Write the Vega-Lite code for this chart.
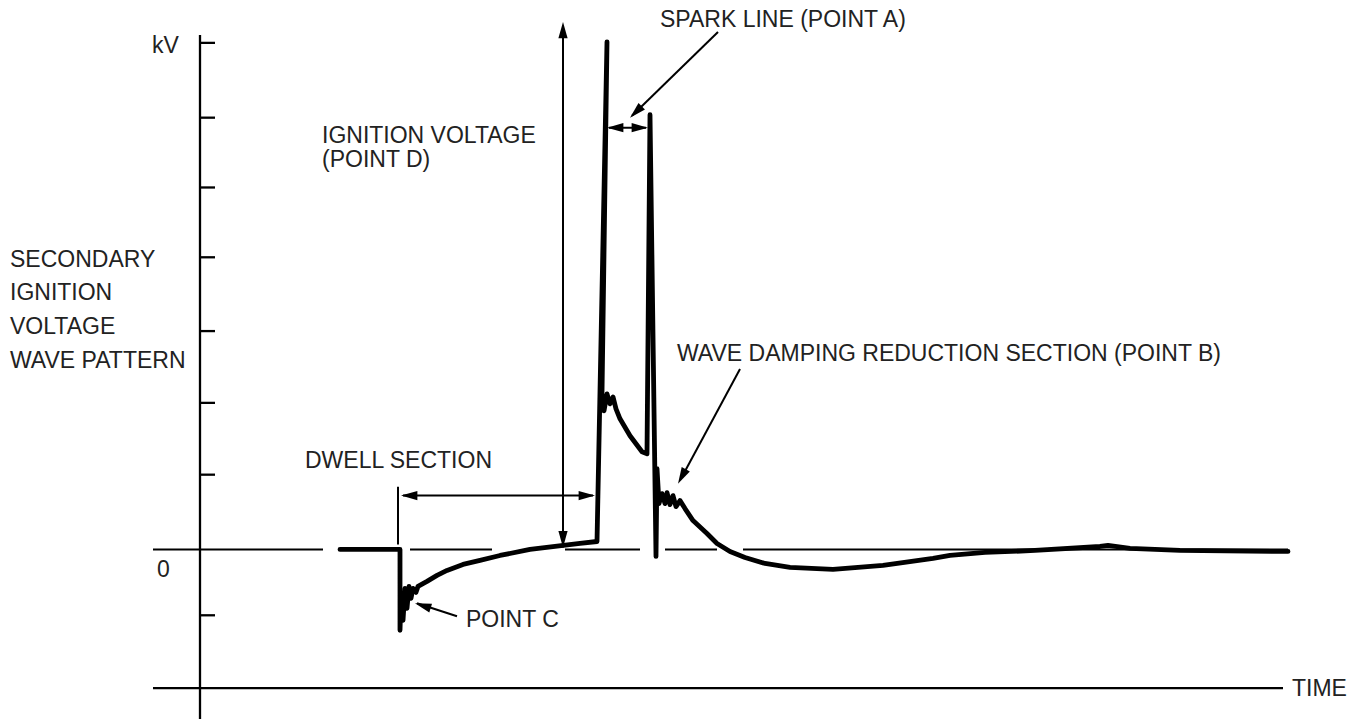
{
  "$schema": "https://vega.github.io/schema/vega-lite/v6.json",
  "width": 1360,
  "height": 721,
  "autosize": {"type": "fit", "contains": "padding"},
  "padding": 0,
  "background": "white",
  "config": {"view": {"stroke": null}},
  "datasets": {
    "frame": [
      {"part": "kV axis", "x": 0, "y": 516, "x2": 0, "y2": -170},
      {"part": "time axis", "x": -47, "y": -139, "x2": 1083, "y2": -139},
      {"part": "tick", "x": 0, "y": 508, "x2": 15, "y2": 508},
      {"part": "tick", "x": 0, "y": 433, "x2": 15, "y2": 433},
      {"part": "tick", "x": 0, "y": 363, "x2": 15, "y2": 363},
      {"part": "tick", "x": 0, "y": 293, "x2": 15, "y2": 293},
      {"part": "tick", "x": 0, "y": 219, "x2": 15, "y2": 219},
      {"part": "tick", "x": 0, "y": 147, "x2": 15, "y2": 147},
      {"part": "tick", "x": 0, "y": 75, "x2": 15, "y2": 75},
      {"part": "tick", "x": 0, "y": -66, "x2": 15, "y2": -66}
    ],
    "zero": [
      {"x": -47, "y": 0, "x2": 123, "y2": 0},
      {"x": 210, "y": 0, "x2": 292, "y2": 0},
      {"x": 365, "y": 0, "x2": 440, "y2": 0},
      {"x": 465, "y": 0, "x2": 517, "y2": 0},
      {"x": 543, "y": 0, "x2": 1088, "y2": 0}
    ],
    "shafts": [
      {"name": "dwell start", "x": 198, "y": 63, "x2": 198, "y2": 5},
      {"name": "ignition voltage", "x": 363, "y": 2, "x2": 363, "y2": 521},
      {"name": "dwell section", "x": 203, "y": 54, "x2": 393, "y2": 54},
      {"name": "spark line", "x": 409, "y": 423, "x2": 446, "y2": 423},
      {"name": "point A", "x": 518, "y": 519, "x2": 432, "y2": 435},
      {"name": "point B", "x": 540, "y": 181, "x2": 482, "y2": 73},
      {"name": "point C", "x": 257, "y": -67, "x2": 217, "y2": -54}
    ],
    "heads": [
      {"x": 363, "y": 529, "dir": "up"},
      {"x": 363, "y": 2, "dir": "down"},
      {"x": 201, "y": 54, "dir": "left"},
      {"x": 395, "y": 54, "dir": "right"},
      {"x": 407, "y": 423, "dir": "left"},
      {"x": 448, "y": 423, "dir": "right"},
      {"x": 430, "y": 433, "dir": "pointA"},
      {"x": 478, "y": 66, "dir": "pointB"},
      {"x": 215, "y": -54, "dir": "pointC"}
    ],
    "wave": [
      {"i": 1, "x": 140, "y": 0}, {"i": 2, "x": 200, "y": 0}, {"i": 3, "x": 200, "y": -81},
      {"i": 4, "x": 201, "y": -49}, {"i": 5, "x": 203, "y": -71}, {"i": 6, "x": 205, "y": -39},
      {"i": 7, "x": 207, "y": -59}, {"i": 8, "x": 209, "y": -37}, {"i": 9, "x": 211, "y": -49},
      {"i": 10, "x": 213, "y": -39}, {"i": 11, "x": 216, "y": -43}, {"i": 12, "x": 218, "y": -37},
      {"i": 13, "x": 227, "y": -32}, {"i": 14, "x": 237, "y": -26}, {"i": 15, "x": 247, "y": -21},
      {"i": 16, "x": 263, "y": -15}, {"i": 17, "x": 280, "y": -11}, {"i": 18, "x": 300, "y": -6},
      {"i": 19, "x": 330, "y": 0}, {"i": 20, "x": 355, "y": 3}, {"i": 21, "x": 380, "y": 6},
      {"i": 22, "x": 397, "y": 8}, {"i": 23, "x": 407, "y": 509}, {"i": 24, "x": 402, "y": 156},
      {"i": 25, "x": 404, "y": 139}, {"i": 26, "x": 407, "y": 156}, {"i": 27, "x": 410, "y": 146},
      {"i": 28, "x": 413, "y": 153}, {"i": 29, "x": 416, "y": 141}, {"i": 30, "x": 420, "y": 131},
      {"i": 31, "x": 430, "y": 114}, {"i": 32, "x": 442, "y": 98}, {"i": 33, "x": 447, "y": 96},
      {"i": 34, "x": 450, "y": 436}, {"i": 35, "x": 456, "y": -7}, {"i": 36, "x": 457, "y": 81},
      {"i": 37, "x": 459, "y": 46}, {"i": 38, "x": 462, "y": 56}, {"i": 39, "x": 465, "y": 46},
      {"i": 40, "x": 467, "y": 57}, {"i": 41, "x": 470, "y": 45}, {"i": 42, "x": 473, "y": 54},
      {"i": 43, "x": 476, "y": 43}, {"i": 44, "x": 480, "y": 49}, {"i": 45, "x": 485, "y": 41},
      {"i": 46, "x": 493, "y": 29}, {"i": 47, "x": 507, "y": 16}, {"i": 48, "x": 517, "y": 6},
      {"i": 49, "x": 530, "y": -2}, {"i": 50, "x": 545, "y": -8}, {"i": 51, "x": 565, "y": -14},
      {"i": 52, "x": 590, "y": -18}, {"i": 53, "x": 633, "y": -20}, {"i": 54, "x": 683, "y": -16},
      {"i": 55, "x": 733, "y": -9}, {"i": 56, "x": 750, "y": -6}, {"i": 57, "x": 785, "y": -3},
      {"i": 58, "x": 835, "y": -1}, {"i": 59, "x": 900, "y": 3}, {"i": 60, "x": 908, "y": 4},
      {"i": 61, "x": 930, "y": 1}, {"i": 62, "x": 980, "y": -1}, {"i": 63, "x": 1088, "y": -2}
    ],
    "labels": [
      {"x": -48, "y": 505, "text": "kV"},
      {"x": -43, "y": -21, "text": "0"},
      {"x": -190, "y": 290, "text": "SECONDARY"},
      {"x": -190, "y": 257, "text": "IGNITION"},
      {"x": -190, "y": 223, "text": "VOLTAGE"},
      {"x": -190, "y": 189, "text": "WAVE PATTERN"},
      {"x": 105, "y": 89, "text": "DWELL SECTION"},
      {"x": 122, "y": 415, "text": "IGNITION VOLTAGE"},
      {"x": 122, "y": 391, "text": "(POINT D)"},
      {"x": 460, "y": 531, "text": "SPARK LINE (POINT A)"},
      {"x": 477, "y": 196, "text": "WAVE DAMPING REDUCTION SECTION (POINT B)"},
      {"x": 266, "y": -71, "text": "POINT C"},
      {"x": 1092, "y": -140, "text": "TIME"}
    ]
  },
  "encoding": {
    "x": {"field": "x", "type": "quantitative", "scale": {"domain": [-200, 1160], "nice": false, "zero": false}, "axis": null},
    "y": {"field": "y", "type": "quantitative", "scale": {"domain": [-170, 551], "nice": false, "zero": false}, "axis": null}
  },
  "layer": [
    {
      "data": {"name": "zero"},
      "mark": {"type": "rule", "color": "black", "strokeWidth": 2},
      "encoding": {"x2": {"field": "x2"}, "y2": {"field": "y2"}}
    },
    {
      "data": {"name": "frame"},
      "mark": {"type": "rule", "color": "black", "strokeWidth": 2.3},
      "encoding": {"x2": {"field": "x2"}, "y2": {"field": "y2"}}
    },
    {
      "data": {"name": "shafts"},
      "mark": {"type": "rule", "color": "black", "strokeWidth": 2},
      "encoding": {"x2": {"field": "x2"}, "y2": {"field": "y2"}}
    },
    {
      "data": {"name": "wave"},
      "mark": {"type": "line", "color": "black", "strokeWidth": 4.8, "strokeJoin": "round", "strokeCap": "round"},
      "encoding": {"order": {"field": "i", "type": "quantitative"}}
    },
    {
      "data": {"name": "heads"},
      "mark": {"type": "point", "shape": "M0,0L0.45,1.6L-0.45,1.6Z", "filled": true, "color": "black", "opacity": 1, "size": 420, "strokeWidth": 0},
      "encoding": {
        "angle": {"field": "dir", "type": "nominal", "scale": {"type": "ordinal", "domain": ["up", "right", "down", "left", "pointA", "pointB", "pointC"], "range": [0, 90, 180, 270, 225.7, 208.3, 287.2]}, "legend": null}
      }
    },
    {
      "data": {"name": "labels"},
      "mark": {"type": "text", "align": "left", "baseline": "middle", "font": "Liberation Sans", "fontSize": 23, "color": "#222222"},
      "encoding": {"text": {"field": "text"}}
    }
  ]
}
